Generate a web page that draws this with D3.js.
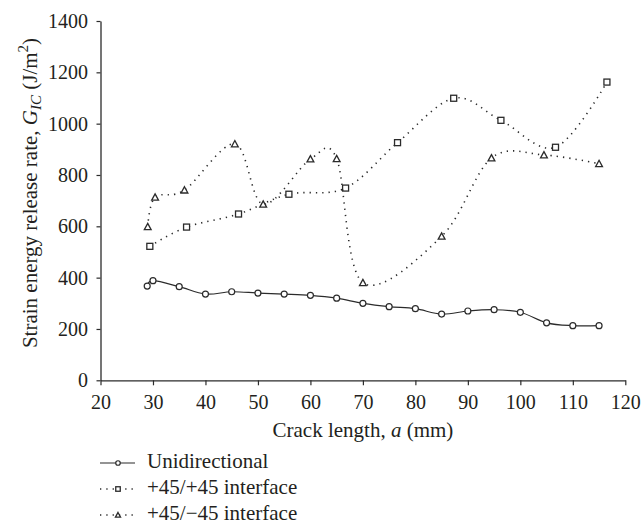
<!DOCTYPE html>
<html>
<head>
<meta charset="utf-8">
<script src="https://cdn.jsdelivr.net/npm/d3@7"></script>
<style>
  html, body { margin: 0; padding: 0; background: #fff; }
</style>
</head>
<body>
<svg id="chart" width="641" height="526"></svg>
<script>
// ---- data ----
const xTicks = [20, 30, 40, 50, 60, 70, 80, 90, 100, 110, 120];
const yTicks = [0, 200, 400, 600, 800, 1000, 1200, 1400];

const uniX = [28.9, 30, 35, 40, 45, 50, 55, 60, 65, 70, 75, 80, 85, 90, 95, 100, 105, 110, 115];
const uniY = [367, 388, 365, 336, 345, 340, 336, 331, 320, 300, 287, 279, 258, 270, 275, 265, 224, 213, 213];

const ppX = [29.4, 36.4, 46.3, 55.9, 66.7, 76.6, 87.3, 96.3, 106.7, 116.5];
const ppY = [522, 597, 648, 725, 749, 926, 1099, 1013, 908, 1162];

const pmX = [29, 30.4, 36, 45.6, 51, 60, 65, 70, 85, 94.5, 104.5, 115];
const pmY = [598, 713, 741, 921, 686, 862, 863, 380, 561, 866, 878, 844];

const seriesNames = ["Unidirectional", "+45/+45 interface", "+45/\u221245 interface"];

// ---- setup ----
const FONT = "'Liberation Serif', 'DejaVu Serif', serif";
const svg = d3.select("#chart").style("font-family", FONT);
const ink = "#2b2b2b";
const x = d3.scaleLinear().domain([20, 120]).range([100.5, 625.3]);
const y = d3.scaleLinear().domain([0, 1400]).range([380.3, 21]);

const series = [
  { name: seriesNames[0], xs: uniX, ys: uniY, dash: null, marker: "circle" },
  { name: seriesNames[1], xs: ppX, ys: ppY, dash: "1.3 5", marker: "square" },
  { name: seriesNames[2], xs: pmX, ys: pmY, dash: "1.3 5", marker: "triangle" }
];

// axes
const gx = svg.append("g").attr("transform", `translate(0,${y(0)})`)
  .call(d3.axisBottom(x).tickValues(xTicks).tickFormat(d3.format("d"))
    .tickSize(5).tickSizeOuter(0).tickPadding(10));
const gy = svg.append("g").attr("transform", `translate(${x(20)},0)`)
  .call(d3.axisLeft(y).tickValues(yTicks).tickFormat(d3.format("d"))
    .tickSize(4).tickSizeOuter(0).tickPadding(8.5));
[gx, gy].forEach(g => {
  g.attr("font-family", FONT).attr("font-size", 20);
  g.selectAll("path.domain").attr("stroke", ink).attr("stroke-width", 1.3);
  g.selectAll(".tick line").attr("stroke", ink).attr("stroke-width", 1.2);
  g.selectAll(".tick text").attr("fill", "#231f20").style("font-family", FONT).style("font-size", "20px");
});

// marker drawing
function drawMarker(g, type, cx, cy, s) {
  if (type === "circle") {
    g.append("circle").attr("cx", cx).attr("cy", cy).attr("r", 3 * s)
      .attr("fill", "#fff").attr("stroke", ink).attr("stroke-width", 1.2);
  } else if (type === "square") {
    const h = 3 * s;
    g.append("rect").attr("x", cx - h).attr("y", cy - h).attr("width", 2 * h).attr("height", 2 * h)
      .attr("fill", "#fff").attr("stroke", ink).attr("stroke-width", 1.3);
  } else {
    const h = 3.4 * s;
    g.append("path").attr("d", `M${cx},${cy - h}L${cx + h},${cy + h * 0.85}L${cx - h},${cy + h * 0.85}Z`)
      .attr("fill", "#fff").attr("stroke", ink).attr("stroke-width", 1.3);
  }
}

const line = d3.line().x(d => x(d[0])).y(d => y(d[1])).curve(d3.curveCatmullRom.alpha(0));

series.forEach(s => {
  const pts = s.xs.map((v, i) => [v, s.ys[i]]);
  const p = svg.append("path").datum(pts).attr("d", line)
    .attr("fill", "none").attr("stroke", ink)
    .attr("stroke-width", s.dash ? 1.6 : 1.2);
  if (s.dash) p.attr("stroke-dasharray", s.dash);
  const g = svg.append("g");
  pts.forEach(d => drawMarker(g, s.marker, x(d[0]), y(d[1]), 1));
});

// axis titles
const xt = svg.append("text").attr("x", (x(20) + x(120)) / 2).attr("y", 437)
  .attr("text-anchor", "middle").style("font-size", "21px").style("font-family", FONT).attr("fill", "#231f20");
xt.append("tspan").text("Crack length, ");
xt.append("tspan").attr("font-style", "italic").text("a");
xt.append("tspan").text(" (mm)");

const yt = svg.append("text").attr("transform", "translate(37,193) rotate(-90)")
  .attr("text-anchor", "middle").style("font-size", "21px").style("font-family", FONT).attr("fill", "#231f20");
yt.append("tspan").text("Strain energy release rate, ");
yt.append("tspan").attr("font-style", "italic").text("G");
yt.append("tspan").attr("font-style", "italic").style("font-size", "15px").attr("dy", 4).text("IC");
yt.append("tspan").attr("dy", -4).text(" (J/m");
yt.append("tspan").style("font-size", "15px").attr("dy", -9).text("2");
yt.append("tspan").attr("dy", 9).text(")");

// legend
const legY = [463, 489, 515];
series.forEach((s, i) => {
  const g = svg.append("g");
  const l = g.append("line").attr("x1", 100).attr("x2", 135).attr("y1", legY[i]).attr("y2", legY[i])
    .attr("stroke", ink).attr("stroke-width", s.dash ? 1.6 : 1.2);
  if (s.dash) l.attr("stroke-dasharray", "1.3 5").attr("stroke-dashoffset", 0);
  drawMarker(g, s.marker, 118, legY[i], 0.75);
  g.append("text").attr("x", 147).attr("y", legY[i] + 5).style("font-size", "21px")
    .style("font-family", FONT).attr("fill", "#231f20").text(s.name);
});
</script>
</body>
</html>
